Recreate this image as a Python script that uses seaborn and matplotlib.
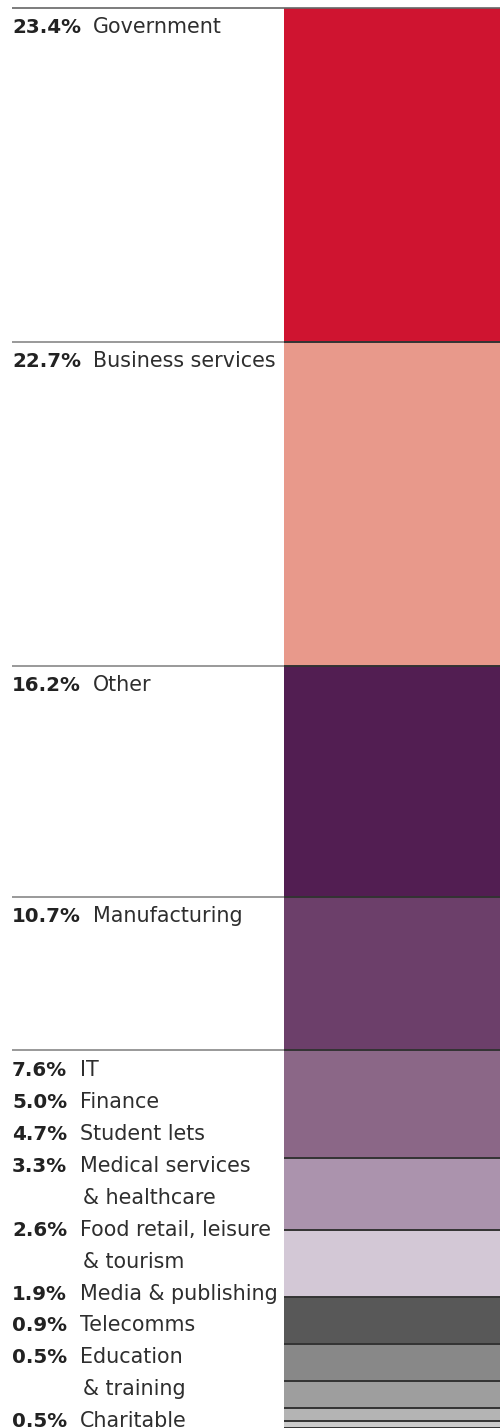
import matplotlib
matplotlib.use("Agg")
import matplotlib.pyplot as plt
import seaborn as sns
import pandas as pd
import numpy as np

# ---- data ----
sectors = ["Government", "Business services", "Other", "Manufacturing", "IT",
           "Finance", "Student lets", "Medical services\n& healthcare",
           "Food retail, leisure\n& tourism", "Media & publishing", "Telecomms",
           "Education\n& training", "Charitable"]
shares = [23.4, 22.7, 16.2, 10.7, 7.6, 5.0, 4.7, 3.3, 2.6, 1.9, 0.9, 0.5, 0.5]
colors = ["#cf1430", "#e8998b", "#521e52", "#6c3f6a", "#8b6787", "#ab93ad",
          "#d3c8d6", "#585858", "#888888", "#9e9e9e", "#b4b4b4", "#cbcbcb", "#dcdcdc"]
n_big = 4  # sectors labelled beside their own block

sns.set_theme(style="white")
plt.rcParams["font.family"] = ["DejaVu Sans"]

W, H, DPI = 503, 1428, 100
fig = plt.figure(figsize=(W / DPI, H / DPI), dpi=DPI)
fig.patch.set_facecolor("white")

PX = 14.27                      # pixels per percentage point
y_top = -8 / PX
y_bot = (H - 8) / PX

cum_end = np.cumsum(shares)
cum_start = cum_end - np.array(shares)
df = pd.DataFrame({"group": ["all"] * len(sectors), "sector": sectors,
                   "end": cum_end})

# ---- stacked bar ----
bx0, bx1 = 284, 500
ax_bar = fig.add_axes([bx0 / W, 0, (bx1 - bx0) / W, 1])
sns.barplot(data=df, x="group", y="end", hue="sector",
            hue_order=sectors[::-1], palette=dict(zip(sectors, colors)),
            dodge=False, width=1, saturation=1, legend=False,
            linewidth=0, ax=ax_bar)
ax_bar.set_xlim(-0.5, 0.5)
ax_bar.set_ylim(y_bot, y_top)
ax_bar.hlines(cum_start[1:], -0.5, 0.5, color="#333333", lw=1.4, zorder=5)
ax_bar.axis("off")

# ---- labels ----
ax = fig.add_axes([0, 0, 1, 1], facecolor="none")
ax.set_xlim(0, W)
ax.set_ylim(y_bot, y_top)
ax.axis("off")

fs_name = 14.9
fs_pct = 14.3
pct_color = "#222222"
name_color = "#2e2e2e"

ax.hlines(0, 12, 500, color="#666666", lw=1.2)
for i in range(1, n_big + 1):
    ax.hlines(cum_start[i], 12, bx0, color="#888888", lw=1.2)

for i in range(n_big):
    yb = cum_start[i] + 25 / PX
    ax.text(12, yb, f"{shares[i]:.1f}%", fontsize=fs_pct, fontweight="bold",
            color=pct_color, va="baseline", ha="left")
    ax.text(93, yb, sectors[i], fontsize=fs_name, color=name_color,
            va="baseline", ha="left")

yb = cum_start[n_big] + 26.5 / PX
row = 31.9 / PX
for i in range(n_big, len(sectors)):
    parts = sectors[i].split("\n")
    ax.text(12, yb, f"{shares[i]:.1f}%", fontsize=fs_pct, fontweight="bold",
            color=pct_color, va="baseline", ha="left")
    ax.text(80, yb, parts[0], fontsize=fs_name, color=name_color,
            va="baseline", ha="left")
    yb += row
    for p in parts[1:]:
        ax.text(83, yb, p, fontsize=fs_name, color=name_color,
                va="baseline", ha="left")
        yb += row

fig.savefig("out.png", dpi=DPI, facecolor="white")
